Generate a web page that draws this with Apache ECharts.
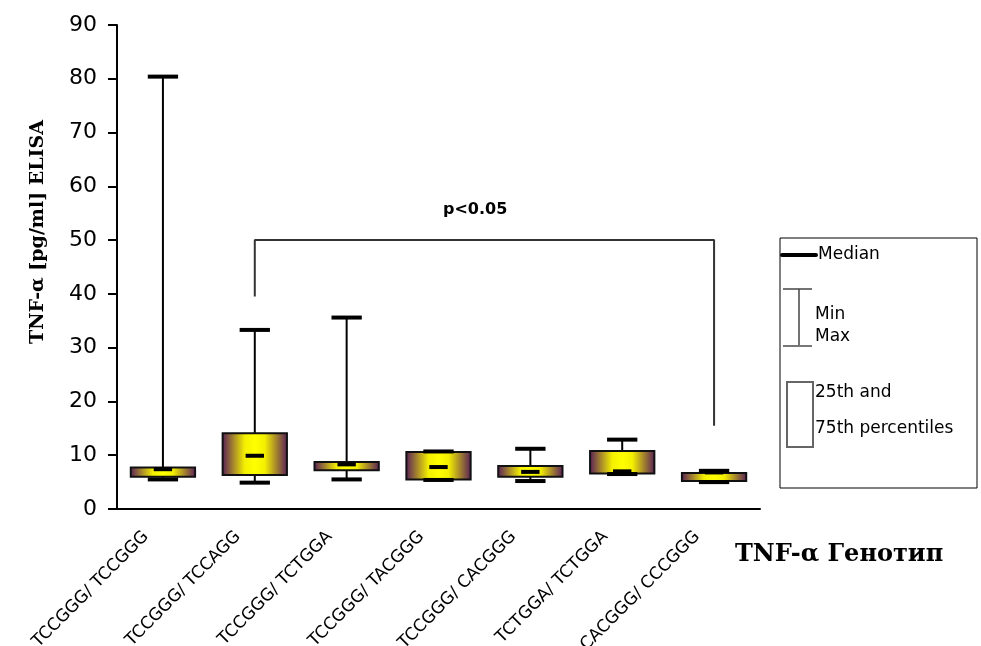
<!DOCTYPE html>
<html>
<head>
<meta charset="utf-8">
<script src="https://cdn.jsdelivr.net/npm/echarts@6/dist/echarts.min.js"></script>
<style>
html,body{margin:0;padding:0;background:#fff;}
#chart{width:981px;height:646px;}
</style>
</head>
<body>
<div id="chart"></div>
<script>
var categories = ['TCCGGG/ TCCGGG','TCCGGG/ TCCAGG','TCCGGG/ TCTGGA','TCCGGG/ TACGGG','TCCGGG/ CACGGG','TCTGGA/ TCTGGA','CACGGG/ CCCGGG'];
var mins    = [5.5, 4.9, 5.5, 5.4, 5.2, 6.5, 5.0];
var q1s     = [6.0, 6.3, 7.2, 5.5, 6.0, 6.6, 5.2];
var medians = [7.4, 9.9, 8.3, 7.8, 6.9, 7.0, 6.8];
var q3s     = [7.7, 14.1, 8.75, 10.6, 8.0, 10.8, 6.7];
var maxs    = [80.4, 33.3, 35.6, 10.7, 11.2, 12.9, 7.1];
var yTicks  = [0, 10, 20, 30, 40, 50, 60, 70, 80, 90];
var bracketX = [1, 1, 6, 6];
var bracketY = [39.5, 50, 50, 15.5];
var pText = 'p<0.05';

var chart = echarts.init(document.getElementById('chart'));
var boxData = categories.map(function(c, i){ return [i, mins[i], q1s[i], medians[i], q3s[i], maxs[i]]; });
var bracketData = bracketX.map(function(x, i){ return [x, bracketY[i]]; });

function renderBox(params, api){
  var i = api.value(0);
  var band = api.size([1, 0])[0];
  var x = api.coord([i, 0])[0];
  var yMin = api.coord([i, api.value(1)])[1];
  var yQ1 = api.coord([i, api.value(2)])[1];
  var yMed = api.coord([i, api.value(3)])[1];
  var yQ3 = api.coord([i, api.value(4)])[1];
  var yMax = api.coord([i, api.value(5)])[1];
  var bw = band * 0.7, cw = band * 0.33, mw = band * 0.2;
  var grad = new echarts.graphic.LinearGradient(0, 0, 1, 0, [
    {offset: 0, color: '#551a5a'},
    {offset: 0.35, color: '#f4f000'},
    {offset: 0.5, color: '#ffff00'},
    {offset: 0.65, color: '#f4f000'},
    {offset: 1, color: '#551a5a'}
  ]);
  return {
    type: 'group',
    children: [
      {type: 'line', shape: {x1: x, y1: yQ3, x2: x, y2: yMax}, style: {stroke: '#000', lineWidth: 2}},
      {type: 'line', shape: {x1: x, y1: yQ1, x2: x, y2: yMin}, style: {stroke: '#000', lineWidth: 2}},
      {type: 'rect', shape: {x: x - bw / 2, y: yQ3, width: bw, height: yQ1 - yQ3}, style: {fill: grad, stroke: '#111', lineWidth: 2}},
      {type: 'line', shape: {x1: x - cw / 2, y1: yMax, x2: x + cw / 2, y2: yMax}, style: {stroke: '#000', lineWidth: 4}},
      {type: 'line', shape: {x1: x - cw / 2, y1: yMin, x2: x + cw / 2, y2: yMin}, style: {stroke: '#000', lineWidth: 4}},
      {type: 'line', shape: {x1: x - mw / 2, y1: yMed, x2: x + mw / 2, y2: yMed}, style: {stroke: '#000', lineWidth: 4}}
    ]
  };
}

var sans = 'DejaVu Sans';
var option = {
  animation: false,
  backgroundColor: '#fff',
  grid: {left: 117, right: 221, top: 25, bottom: 137, outerBoundsMode: 'none', containLabel: false},
  xAxis: {
    type: 'category',
    data: categories,
    boundaryGap: true,
    axisLine: {lineStyle: {color: '#000', width: 2}},
    axisTick: {length: 6, lineStyle: {color: '#000', width: 2}, alignWithLabel: false},
    axisLabel: {rotate: 45, fontFamily: sans, fontSize: 17, color: '#000', margin: 8, padding: [0, 24, 0, 0], interval: 0},
    name: 'TNF-α Генотип',
    nameLocation: 'end',
    nameGap: 0,
    nameTextStyle: {fontFamily: 'DejaVu Serif', fontWeight: 'bold', fontSize: 24, color: '#000', align: 'left', verticalAlign: 'top', padding: [34, 0, 0, -25]}
  },
  yAxis: {
    type: 'value',
    min: 0, max: 90, interval: 10,
    splitLine: {show: false},
    axisLine: {show: true, lineStyle: {color: '#000', width: 2}},
    axisTick: {show: true, length: 9, lineStyle: {color: '#000', width: 2}},
    axisLabel: {fontFamily: sans, fontSize: 22, color: '#000', margin: 20,
      formatter: function(v){ return yTicks.indexOf(v) >= 0 ? String(v) : ''; }}
  },
  series: [
    {type: 'custom', renderItem: renderBox, data: boxData, encode: {x: 0, y: [1, 2, 3, 4, 5]}, z: 3},
    {type: 'line', data: bracketData, symbol: 'none', lineStyle: {color: '#333', width: 2}, z: 2}
  ],
  graphic: [
    {type: 'text', x: 38, y: 232, rotation: Math.PI / 2, style: {text: 'TNF-α [pg/ml] ELISA', fontFamily: 'DejaVu Serif', fontWeight: 'bold', fontSize: 19, fill: '#000', align: 'center', verticalAlign: 'middle'}},
    {type: 'text', left: 443, top: 202, style: {text: pText, fontFamily: sans, fontWeight: 'bold', fontSize: 16, fill: '#000'}},
    {type: 'rect', shape: {x: 780, y: 238, width: 197, height: 250}, style: {fill: '#fff', stroke: '#000', lineWidth: 1}},
    {type: 'line', shape: {x1: 782, y1: 255, x2: 816, y2: 255}, style: {stroke: '#000', lineWidth: 4, lineCap: 'round'}},
    {type: 'text', x: 818, y: 255, style: {text: 'Median', fontFamily: sans, fontSize: 17, fill: '#000', verticalAlign: 'middle'}},
    {type: 'line', shape: {x1: 799, y1: 289, x2: 799, y2: 346}, style: {stroke: '#444', lineWidth: 1.5}},
    {type: 'line', shape: {x1: 783, y1: 289, x2: 812, y2: 289}, style: {stroke: '#444', lineWidth: 1.5}},
    {type: 'line', shape: {x1: 783, y1: 346, x2: 812, y2: 346}, style: {stroke: '#777', lineWidth: 2}},
    {type: 'text', x: 815, y: 315, style: {text: 'Min', fontFamily: sans, fontSize: 17, fill: '#000', verticalAlign: 'middle'}},
    {type: 'text', x: 815, y: 337, style: {text: 'Max', fontFamily: sans, fontSize: 17, fill: '#000', verticalAlign: 'middle'}},
    {type: 'rect', shape: {x: 787, y: 382, width: 26, height: 65}, style: {fill: 'none', stroke: '#666', lineWidth: 2}},
    {type: 'text', x: 815, y: 393, style: {text: '25th and', fontFamily: sans, fontSize: 17, fill: '#000', verticalAlign: 'middle'}},
    {type: 'text', x: 815, y: 429, style: {text: '75th percentiles', fontFamily: sans, fontSize: 17, fill: '#000', verticalAlign: 'middle'}}
  ]
};
chart.setOption(option);
</script>
</body>
</html>
